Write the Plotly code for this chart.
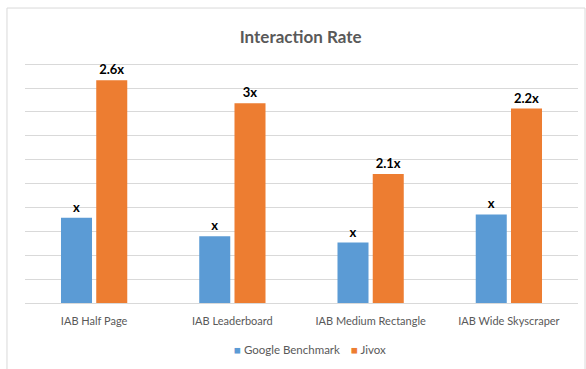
import plotly.graph_objects as go

categories = ["IAB Half Page", "IAB Leaderboard", "IAB Medium Rectangle", "IAB Wide Skyscraper"]
google_benchmark = [3.57, 2.80, 2.53, 3.71]
jivox = [9.33, 8.36, 5.40, 8.14]
google_labels = ["x", "x", "x", "x"]
jivox_labels = ["2.6x", "3x", "2.1x", "2.2x"]
series_names = ["Google Benchmark", "Jivox"]
series_colors = ["#5B9BD5", "#ED7D31"]

FONT = "Lato"
label_font = dict(family=FONT, size=13, color="#000000", weight="bold")

fig = go.Figure()
fig.add_trace(go.Bar(
    name=series_names[0], x=categories, y=google_benchmark,
    marker=dict(color=series_colors[0], line=dict(width=0)),
    text=google_labels, textposition="outside", textfont=label_font,
    cliponaxis=False,
))
fig.add_trace(go.Bar(
    name=series_names[1], x=categories, y=jivox,
    marker=dict(color=series_colors[1], line=dict(width=0)),
    text=jivox_labels, textposition="outside", textfont=label_font,
    cliponaxis=False,
))

fig.update_layout(
    width=586, height=369,
    margin=dict(l=25, r=8, t=57, b=66),
    paper_bgcolor="white", plot_bgcolor="white",
    barmode="group", bargap=0.49, bargroupgap=0.12,
    title=dict(text="Interaction Rate", x=0.513, xanchor="center", y=0.9, yanchor="middle",
               font=dict(family=FONT, size=17, color="#595959", weight="bold")),
    showlegend=False,
    xaxis=dict(showline=True, linecolor="#d9d9d9", linewidth=1, ticks="",
               ticklabelstandoff=8,
               tickfont=dict(family=FONT, size=11, color="#595959")),
    yaxis=dict(range=[0, 10.3], tickvals=list(range(1, 11)), showgrid=True,
               gridcolor="#d9d9d9", gridwidth=1,
               showticklabels=False, zeroline=False, showline=False, ticks=""),
)

# legend drawn as annotations
legend_x = [0.375, 0.585]
for name, color, lx in zip(series_names, series_colors, legend_x):
    fig.add_annotation(
        xref="paper", yref="paper", x=lx, y=-0.19, xanchor="left", yanchor="middle",
        showarrow=False,
        text=f"<span style='color:{color}'>■</span> {name}",
        font=dict(family=FONT, size=11.5, color="#595959"),
    )

fig.add_shape(type="rect", xref="paper", yref="paper",
              x0=-0.0326, x1=1.0127, y0=-0.28, y1=1.199,
              line=dict(color="#d9d9d9", width=1), fillcolor="rgba(0,0,0,0)", layer="below")

fig.write_html("out.html")
